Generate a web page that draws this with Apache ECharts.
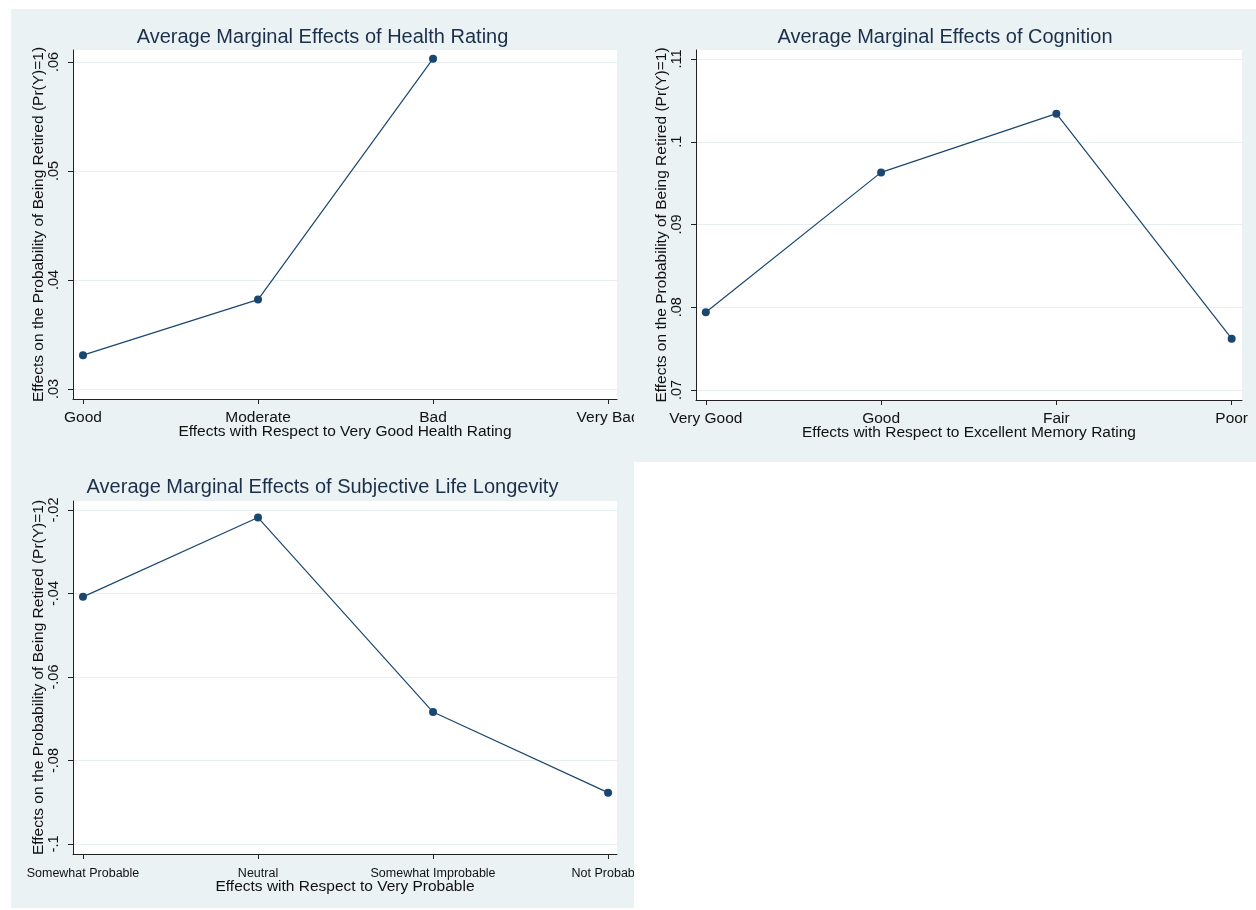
<!DOCTYPE html>
<html>
<head>
<meta charset="utf-8">
<script src="https://cdn.jsdelivr.net/npm/echarts@6/dist/echarts.min.js"></script>
<style>
  body { margin: 0; background: #ffffff; }
  .panel { position: absolute; background: #eaf2f3; overflow: hidden; }
  #p1 { left: 11px; top: 9px; width: 623px; height: 453px; }
  #p2 { left: 634px; top: 9px; width: 622px; height: 453px; }
  #p3 { left: 11px; top: 462px; width: 623px; height: 446px; }
</style>
</head>
<body>
<div class="panel" id="p1"></div>
<div class="panel" id="p2"></div>
<div class="panel" id="p3"></div>
<script>
// health rating panel
const healthCats = ["Good", "Moderate", "Bad", "Very Bad"];
const healthVals = [0.0331, 0.0382, 0.0603, null];
const healthTicks = [0.03, 0.04, 0.05, 0.06];
const healthRange = [0.02908, 0.0611];

// cognition panel
const cognitionCats = ["Very Good", "Good", "Fair", "Poor"];
const cognitionVals = [0.0794, 0.0963, 0.1034, 0.0762];
const cognitionTicks = [0.07, 0.08, 0.09, 0.1, 0.11];
const cognitionRange = [0.06879, 0.11109];

// subjective life longevity panel
const longevityCats = ["Somewhat Probable", "Neutral", "Somewhat Improbable", "Not Probable"];
const longevityVals = [-0.0408, -0.0218, -0.0684, -0.0877];
const longevityTicks = [-0.1, -0.08, -0.06, -0.04, -0.02];
const longevityRange = [-0.1024, -0.01784];

const yTitle = "Effects on the Probability of Being Retired (Pr(Y)=1)";
const FONT = "Liberation Sans, Arial, sans-serif";
const NAVY = "#1a476f";

// stata style: .05, -.02
function stataNum(v) {
  return String(+v.toFixed(3)).replace(/^(-?)0\./, "$1.");
}

function buildOption(cfg) {
  return {
    animation: false,
    title: {
      text: cfg.title,
      left: "center",
      top: cfg.titleTop,
      textStyle: { color: "#1c2f4a", fontFamily: FONT, fontSize: 20, fontWeight: "normal" },
    },
    grid: {
      left: 62,
      top: cfg.gridTop,
      width: cfg.gridWidth,
      height: cfg.gridHeight,
      outerBoundsMode: "none",
      containLabel: false,
      show: true,
      backgroundColor: "#ffffff",
      borderWidth: 0,
    },
    xAxis: {
      type: "value",
      min: cfg.xRange[0],
      max: cfg.xRange[1],
      name: cfg.xTitle,
      nameLocation: "middle",
      nameGap: cfg.xNameGap,
      nameMoveOverlap: false,
      nameTextStyle: { color: "#111", fontFamily: FONT, fontSize: 15.5 },
      axisLine: { show: true, onZero: false, lineStyle: { color: "#222", width: 1 } },
      axisTick: { show: true, length: 5, lineStyle: { color: "#222" }, customValues: [0, 1, 2, 3] },
      axisLabel: {
        customValues: [0, 1, 2, 3],
        margin: cfg.xLabelMargin,
        color: "#111",
        fontFamily: FONT,
        fontSize: cfg.xLabelSize,
        formatter: (v) => cfg.cats[Math.round(v)],
      },
      splitLine: { show: false },
    },
    yAxis: {
      type: "value",
      min: cfg.yRange[0],
      max: cfg.yRange[1],
      name: yTitle,
      nameLocation: "middle",
      nameGap: 26,
      nameMoveOverlap: false,
      nameTextStyle: { color: "#111", fontFamily: FONT, fontSize: 15.5 },
      axisLine: { show: true, onZero: false, lineStyle: { color: "#222", width: 1 } },
      axisTick: { show: true, length: 5, lineStyle: { color: "#222" }, customValues: cfg.ticks },
      axisLabel: {
        customValues: cfg.ticks,
        rotate: 90,
        margin: 12,
        color: "#111",
        fontFamily: FONT,
        fontSize: 14.5,
        formatter: stataNum,
      },
      splitLine: { show: true, lineStyle: { color: "#e6eef0", width: 1 } },
    },
    series: [
      {
        type: "line",
        data: cfg.vals.map((v, i) => [i, v]),
        symbol: "circle",
        symbolSize: 8,
        lineStyle: { color: NAVY, width: 1.2 },
        itemStyle: { color: NAVY },
        connectNulls: false,
      },
    ],
  };
}

const panels = [
  {
    id: "p1",
    title: "Average Marginal Effects of Health Rating",
    xTitle: "Effects with Respect to Very Good Health Rating",
    cats: healthCats, vals: healthVals, ticks: healthTicks, yRange: healthRange,
    xRange: [-0.057, 3.051],
    titleTop: 13, gridTop: 41, gridWidth: 544, gridHeight: 349,
    xLabelSize: 15.5, xLabelMargin: 11, xNameGap: 25,
  },
  {
    id: "p2",
    title: "Average Marginal Effects of Cognition",
    xTitle: "Effects with Respect to Excellent Memory Rating",
    cats: cognitionCats, vals: cognitionVals, ticks: cognitionTicks, yRange: cognitionRange,
    xRange: [-0.056, 3.059],
    titleTop: 13, gridTop: 41, gridWidth: 546, gridHeight: 350,
    xLabelSize: 15.5, xLabelMargin: 11, xNameGap: 25,
  },
  {
    id: "p3",
    title: "Average Marginal Effects of Subjective Life Longevity",
    xTitle: "Effects with Respect to Very Probable",
    cats: longevityCats, vals: longevityVals, ticks: longevityTicks, yRange: longevityRange,
    xRange: [-0.057, 3.051],
    titleTop: 10, gridTop: 39, gridWidth: 544, gridHeight: 353,
    xLabelSize: 12.5, xLabelMargin: 13, xNameGap: 25,
  },
];

panels.forEach((p) => {
  const chart = echarts.init(document.getElementById(p.id), null, { renderer: "canvas" });
  chart.setOption(buildOption(p));
});
</script>
</body>
</html>
